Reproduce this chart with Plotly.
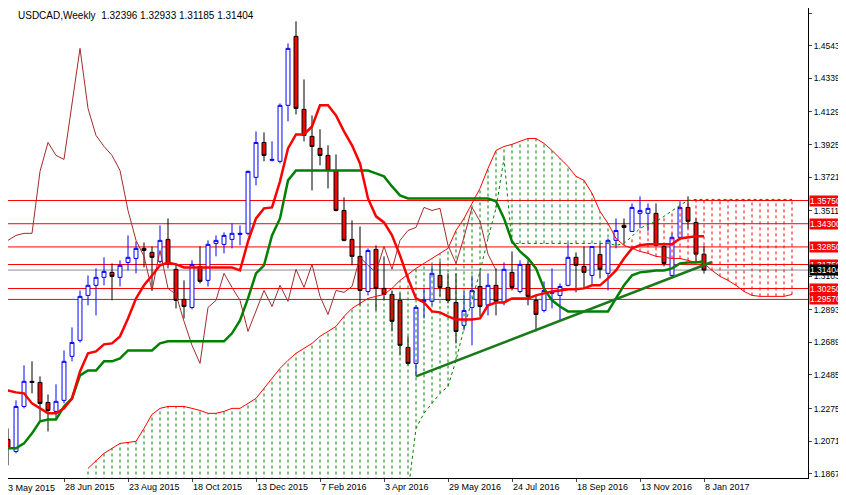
import plotly.graph_objects as go

# weekly USDCAD candles, bar 0 = week of 3 May 2015
opens = [1.2157, 1.2082, 1.2007, 1.2288, 1.2445, 1.2438, 1.2313, 1.2257, 1.2326, 1.2601,
         1.2701, 1.2982, 1.3045, 1.3095, 1.3126, 1.3095, 1.3188, 1.3213, 1.3276, 1.3251,
         1.3195, 1.3332, 1.3145, 1.2957, 1.2907, 1.3163, 1.3076, 1.3307, 1.3301, 1.3332,
         1.3363, 1.3370, 1.3720, 1.3938, 1.3826, 1.3820, 1.4170, 1.4601, 1.4145, 1.3976,
         1.3901, 1.3857, 1.3763, 1.3513, 1.3332, 1.3226, 1.3007, 1.3270, 1.3026, 1.2988,
         1.2951, 1.2657, 1.2557, 1.2945, 1.2945, 1.3107, 1.3032, 1.2938, 1.2795, 1.2907,
         1.3038, 1.2920, 1.3045, 1.2938, 1.3126, 1.3007, 1.3176, 1.2951, 1.2888, 1.2995,
         1.2982, 1.3045, 1.3220, 1.3163, 1.3107, 1.3238, 1.3120, 1.3326, 1.3420, 1.3382,
         1.3495, 1.3495, 1.3495, 1.3288, 1.3107, 1.3345, 1.3532, 1.3438, 1.32396]
highs = [1.2201, 1.2151, 1.2326, 1.2545, 1.2570, 1.2476, 1.2363, 1.2426, 1.2638, 1.2782,
         1.3013, 1.3107, 1.3151, 1.3220, 1.3182, 1.3201, 1.3357, 1.3320, 1.3313, 1.3288,
         1.3420, 1.3463, 1.3182, 1.3076, 1.3201, 1.3288, 1.3326, 1.3357, 1.3376, 1.3432,
         1.3420, 1.3763, 1.4007, 1.4001, 1.3945, 1.4182, 1.4557, 1.4695, 1.4332, 1.4107,
         1.4020, 1.3920, 1.3863, 1.3595, 1.3451, 1.3413, 1.3276, 1.3295, 1.3226, 1.3013,
         1.2995, 1.2726, 1.2920, 1.3026, 1.3170, 1.3195, 1.3120, 1.3120, 1.3007, 1.3107,
         1.3132, 1.3120, 1.3151, 1.3188, 1.3257, 1.3201, 1.3201, 1.2982, 1.3070, 1.3151,
         1.3057, 1.3307, 1.3251, 1.3288, 1.3288, 1.3307, 1.3338, 1.3463, 1.3463, 1.3557,
         1.3601, 1.3557, 1.3557, 1.3301, 1.3370, 1.3570, 1.3601, 1.3463, 1.32933]
lows = [1.2007, 1.1920, 1.1995, 1.2276, 1.2370, 1.2201, 1.2132, 1.2213, 1.2307, 1.2570,
        1.2688, 1.2920, 1.2857, 1.3045, 1.2951, 1.3038, 1.3138, 1.3120, 1.3157, 1.3013,
        1.3182, 1.3151, 1.2901, 1.2838, 1.2895, 1.3057, 1.3038, 1.3226, 1.3245, 1.3276,
        1.3295, 1.3357, 1.3670, 1.3820, 1.3820, 1.3807, 1.4070, 1.4113, 1.3945, 1.3638,
        1.3795, 1.3651, 1.3507, 1.3320, 1.3170, 1.2920, 1.2982, 1.2888, 1.2951, 1.2757,
        1.2607, 1.2545, 1.2476, 1.2838, 1.2920, 1.2976, 1.2932, 1.2682, 1.2763, 1.2670,
        1.2851, 1.2857, 1.2857, 1.2920, 1.3013, 1.2995, 1.2920, 1.2757, 1.2876, 1.2901,
        1.2826, 1.3038, 1.3001, 1.3026, 1.3045, 1.3088, 1.3013, 1.3276, 1.3307, 1.3382,
        1.3401, 1.3382, 1.3288, 1.3163, 1.3088, 1.3338, 1.3401, 1.3195, 1.31185]
closes = [1.2101, 1.2026, 1.2288, 1.2445, 1.2438, 1.2307, 1.2263, 1.2320, 1.2570, 1.2688,
          1.2976, 1.3045, 1.3095, 1.3132, 1.3101, 1.3170, 1.3220, 1.3276, 1.3263, 1.3220,
          1.3326, 1.3182, 1.2951, 1.2913, 1.3176, 1.3070, 1.3301, 1.3326, 1.3357, 1.3370,
          1.3370, 1.3757, 1.3938, 1.3857, 1.3832, 1.4170, 1.4526, 1.4151, 1.3982, 1.3913,
          1.3857, 1.3763, 1.3513, 1.3326, 1.3226, 1.3013, 1.3263, 1.3026, 1.2988, 1.2820,
          1.2670, 1.2557, 1.2907, 1.2951, 1.3120, 1.3032, 1.2951, 1.2757, 1.2888, 1.3013,
          1.2913, 1.3045, 1.2945, 1.3145, 1.3032, 1.3176, 1.2976, 1.2863, 1.3013, 1.3001,
          1.3038, 1.3220, 1.3170, 1.3126, 1.3288, 1.3145, 1.3326, 1.3388, 1.3407, 1.3532,
          1.3513, 1.3526, 1.3295, 1.3182, 1.3345, 1.3532, 1.3445, 1.3240, 1.31404]

tenkan = [1.2388, 1.2388, 1.2376, 1.2370, 1.2307, 1.2276, 1.2245, 1.2245, 1.2276, 1.2338,
          1.2507, 1.2620, 1.2632, 1.2676, 1.2682, 1.2726, 1.2838, 1.2963, 1.3045, 1.3107,
          1.3170, 1.3188, 1.3176, 1.3157, 1.3157, 1.3157, 1.3157, 1.3157, 1.3157, 1.3157,
          1.3138, 1.3320, 1.3463, 1.3526, 1.3532, 1.3695, 1.3901, 1.3988, 1.3988, 1.4038,
          1.4170, 1.4170, 1.4107, 1.4007, 1.3920, 1.3807, 1.3588, 1.3476, 1.3438, 1.3357,
          1.3232, 1.3088, 1.2963, 1.2938, 1.2882, 1.2876, 1.2851, 1.2832, 1.2832, 1.2832,
          1.2838, 1.2920, 1.2938, 1.2938, 1.2963, 1.2963, 1.2963, 1.2982, 1.2995, 1.3007,
          1.3013, 1.3020, 1.3020, 1.3026, 1.3045, 1.3045, 1.3088, 1.3138, 1.3213, 1.3276,
          1.3295, 1.3301, 1.3301, 1.3301, 1.3301, 1.3338, 1.3345, 1.3351, 1.3351]
kijun = [1.2026, 1.2026, 1.2026, 1.2057, 1.2120, 1.2195, 1.2207, 1.2207, 1.2288, 1.2338,
         1.2482, 1.2513, 1.2513, 1.2570, 1.2570, 1.2588, 1.2638, 1.2638, 1.2638, 1.2638,
         1.2682, 1.2695, 1.2695, 1.2695, 1.2695, 1.2695, 1.2695, 1.2695, 1.2695, 1.2745,
         1.2826, 1.2963, 1.3120, 1.3170, 1.3357, 1.3463, 1.3701, 1.3763, 1.3763, 1.3763,
         1.3763, 1.3763, 1.3763, 1.3763, 1.3763, 1.3763, 1.3763, 1.3745, 1.3726, 1.3663,
         1.3607, 1.3588, 1.3588, 1.3588, 1.3588, 1.3588, 1.3588, 1.3588, 1.3588, 1.3588,
         1.3588, 1.3588, 1.3570, 1.3463, 1.3320, 1.3257, 1.3213, 1.3151, 1.3026, 1.2951,
         1.2913, 1.2882, 1.2882, 1.2882, 1.2882, 1.2882, 1.2882, 1.2963, 1.3045, 1.3107,
         1.3126, 1.3132, 1.3138, 1.3138, 1.3151, 1.3182, 1.3188, 1.3188, 1.3195]

# cloud spans, bars 11..99 (already shifted forward)
cloud_start = 11
span_a = [1.1901, 1.1951, 1.1995, 1.2026, 1.2057, 1.2063, 1.2070, 1.2151, 1.2238, 1.2276,
          1.2288, 1.2288, 1.2288, 1.2276, 1.2263, 1.2245, 1.2245, 1.2257, 1.2276, 1.2276,
          1.2307, 1.2338, 1.2401, 1.2463, 1.2526, 1.2576, 1.2620, 1.2651, 1.2682, 1.2726,
          1.2757, 1.2788, 1.2851, 1.2901, 1.2932, 1.2963, 1.2976, 1.2988, 1.3026, 1.3076,
          1.3113, 1.3151, 1.3182, 1.3213, 1.3245, 1.3276, 1.3388, 1.3463, 1.3557, 1.3651,
          1.3776, 1.3888, 1.3913, 1.3926, 1.3945, 1.3963, 1.3963, 1.3932, 1.3888, 1.3838,
          1.3788, 1.3726, 1.3701, 1.3620, 1.3507, 1.3432, 1.3338, 1.3295, 1.3276, 1.3257,
          1.3245, 1.3226, 1.3220, 1.3213, 1.3213, 1.3201, 1.3188, 1.3182, 1.3138, 1.3101,
          1.3076, 1.3045, 1.3007, 1.2982, 1.2976, 1.2976, 1.2976, 1.2976, 1.2988]
span_b = [1.1750] * 41 + [
          1.2151, 1.2245, 1.2307, 1.2370, 1.2413, 1.2576, 1.2776, 1.2963, 1.3132, 1.3338,
          1.3526, 1.3838, 1.3307, 1.3307, 1.3307, 1.3307, 1.3307, 1.3307, 1.3307, 1.3307,
          1.3307, 1.3307, 1.3307, 1.3307, 1.3307, 1.3295, 1.3307, 1.3351, 1.3401, 1.3426,
          1.3445, 1.3476, 1.3513, 1.3545, 1.3576, 1.3582, 1.3582, 1.3582, 1.3582, 1.3582,
          1.3582, 1.3582, 1.3582, 1.3582, 1.3582, 1.3582, 1.3582, 1.3582]

levels = [1.35750, 1.34300, 1.32850, 1.31750, 1.30250, 1.29570]
last_price = 1.31404
trend_x = [52, 89]
trend_y = [1.2476, 1.3191]

ytick_vals = [1.18670, 1.20710, 1.22750, 1.24850, 1.26890, 1.28930, 1.31030,
              1.35110, 1.37210, 1.39250, 1.41290, 1.43390, 1.45430, 1.47470]
xtick_labels = ["3 May 2015", "28 Jun 2015", "23 Aug 2015", "18 Oct 2015", "13 Dec 2015",
                "7 Feb 2016", "3 Apr 2016", "29 May 2016", "24 Jul 2016", "18 Sep 2016",
                "13 Nov 2016", "8 Jan 2017"]

bars = list(range(len(closes)))
FONT = "Liberation Sans"

fig = go.Figure()

# price levels under everything
for lv in levels:
    fig.add_hline(y=lv, line_color="#ff0000", line_width=1, layer="below")
fig.add_hline(y=last_price, line_color="#8c8c8c", line_width=1, layer="below")

# cloud hatching: one dotted vertical per bar
for up in (True, False):
    hx, hy = [], []
    for k, (a, b) in enumerate(zip(span_a, span_b)):
        if (a >= b) == up:
            i = cloud_start + k
            hx += [i, i, None]
            hy += [min(a, b), max(a, b), None]
    fig.add_trace(go.Scatter(x=hx, y=hy, mode="lines", hoverinfo="skip",
                             line=dict(color="#008000" if up else "#ff0000", width=1, dash="dot")))

cloud_x = list(range(cloud_start, cloud_start + len(span_a)))
fig.add_trace(go.Scatter(x=cloud_x, y=span_a, mode="lines", line=dict(color="#ff0000", width=1)))
fig.add_trace(go.Scatter(x=cloud_x, y=span_b, mode="lines", line=dict(color="#008000", width=1, dash="dot")))

# chikou span: closes shifted back 26 bars
fig.add_trace(go.Scatter(x=[i - 26 for i in bars], y=closes, mode="lines",
                         line=dict(color="#a52a2a", width=1)))

fig.add_trace(go.Scatter(x=bars, y=kijun, mode="lines", line=dict(color="#008000", width=2.5)))
fig.add_trace(go.Scatter(x=bars, y=tenkan, mode="lines", line=dict(color="#ff0000", width=2.5)))
fig.add_trace(go.Scatter(x=trend_x, y=trend_y, mode="lines", line=dict(color="#1a7a1a", width=2.5)))

fig.add_trace(go.Candlestick(
    x=bars, open=opens, high=highs, low=lows, close=closes, whiskerwidth=0,
    increasing=dict(line=dict(color="#0000ff", width=1), fillcolor="white"),
    decreasing=dict(line=dict(color="black", width=1), fillcolor="#ff0000")))

annotations = [dict(xref="paper", yref="paper", x=0, y=1, xanchor="left", yanchor="top",
                    xshift=8, showarrow=False,
                    text="USDCAD,Weekly  1.32396 1.32933 1.31185 1.31404",
                    font=dict(family=FONT, size=10, color="black")),
               dict(xref="paper", yref="paper", x=0, y=0, xanchor="left", yanchor="top",
                    xshift=-2, yshift=-3, showarrow=False, text=xtick_labels[0],
                    font=dict(family=FONT, size=9, color="black"))]
for lv in levels:
    annotations.append(dict(xref="paper", yref="y", x=1, y=lv, xanchor="left", xshift=1,
                            showarrow=False, text=f"{lv:.5f}", bgcolor="#ff0000",
                            borderpad=0, font=dict(family=FONT, size=8.5, color="white")))
annotations.append(dict(xref="paper", yref="y", x=1, y=last_price, xanchor="left", xshift=1,
                        showarrow=False, text=f"{last_price:.5f}", bgcolor="black",
                        borderpad=0, font=dict(family=FONT, size=8.5, color="white")))

# page adds an 8px body margin, so the figure is 8px smaller and starts one bar later
fig.update_layout(
    width=838, height=487, margin=dict(l=0, r=38, t=0, b=17),
    paper_bgcolor="white", plot_bgcolor="white", showlegend=False,
    annotations=annotations,
    xaxis=dict(range=[1, 101], rangeslider=dict(visible=False), showgrid=False, zeroline=False,
               tickvals=[8 * k for k in range(1, len(xtick_labels))], ticktext=xtick_labels[1:],
               tickangle=0, ticklabelposition="outside right", ticks="outside", ticklen=3,
               showline=True, linecolor="black", tickfont=dict(family=FONT, size=9, color="black")),
    yaxis=dict(range=[1.18408, 1.47783], side="right", showgrid=False, zeroline=False,
               tickvals=ytick_vals, tickformat=".5f", ticks="outside", ticklen=3,
               ticklabelstandoff=0, showline=True, linecolor="black",
               tickfont=dict(family=FONT, size=8.5, color="black")),
)

fig.write_html("out.html")
